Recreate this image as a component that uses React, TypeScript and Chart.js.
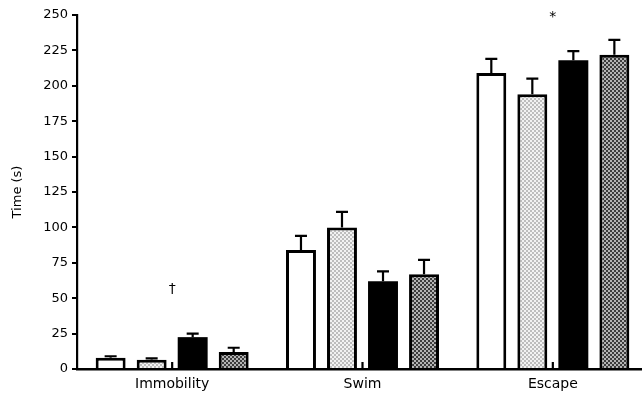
import React, { useEffect, useRef } from "react";
import { Chart, registerables } from "chart.js";

Chart.register(...registerables);

const categories = ["Immobility", "Swim", "Escape"];
const seriesNames = ["Group 1", "Group 2", "Group 3", "Group 4"];
const group1Means = [8, 84, 209];
const group2Means = [6.5, 100, 194];
const group3Means = [22.5, 62, 218];
const group4Means = [12, 67, 222];
const group1Err = [1, 10, 10];
const group2Err = [1, 11, 11];
const group3Err = [2.5, 7, 6.5];
const group4Err = [3, 10, 10.5];
const yTicks = [0, 25, 50, 75, 100, 125, 150, 175, 200, 225, 250];
const annotations = [
  { category: 0, value: 56, text: "\u2020" },
  { category: 2, value: 248, text: "*" },
];

function makePattern(a: string, b: string): CanvasPattern | string {
  const c = document.createElement("canvas");
  c.width = 4;
  c.height = 4;
  const ctx = c.getContext("2d");
  if (!ctx) return a;
  ctx.fillStyle = a;
  ctx.fillRect(0, 0, 4, 4);
  ctx.fillStyle = b;
  ctx.fillRect(0, 0, 2, 2);
  ctx.fillRect(2, 2, 2, 2);
  return ctx.createPattern(c, "repeat") || a;
}

export default function App() {
  const ref = useRef<HTMLCanvasElement | null>(null);

  useEffect(() => {
    if (!ref.current) return;
    const means = [group1Means, group2Means, group3Means, group4Means];
    const errs = [group1Err, group2Err, group3Err, group4Err];
    const fills: any[] = [
      "#ffffff",
      makePattern("#f2f2f2", "#bdbdbd"),
      "#000000",
      makePattern("#b4b4b4", "#3c3c3c"),
    ];
    const borders = [3, 3, 0, 3];

    const extras = {
      id: "extras",
      afterDatasetsDraw(chart: any) {
        const ctx = chart.ctx;
        const y = chart.scales.y;
        const x = chart.scales.x;
        ctx.save();
        ctx.strokeStyle = "#000";
        ctx.lineWidth = 2.2;
        means.forEach((m, i) => {
          const meta = chart.getDatasetMeta(i);
          meta.data.forEach((el: any, j: number) => {
            const top = y.getPixelForValue(m[j] + errs[i][j]);
            ctx.beginPath();
            ctx.moveTo(el.x, el.y);
            ctx.lineTo(el.x, top);
            ctx.moveTo(el.x - 6, top);
            ctx.lineTo(el.x + 6, top);
            ctx.stroke();
          });
        });
        // small inner category ticks
        const base = y.getPixelForValue(0);
        categories.forEach((_, k) => {
          const cx = x.getPixelForValue(k);
          ctx.beginPath();
          ctx.moveTo(cx, base);
          ctx.lineTo(cx, base - 7);
          ctx.stroke();
        });
        ctx.fillStyle = "#000";
        ctx.font = "14px 'DejaVu Sans'";
        ctx.textAlign = "center";
        ctx.textBaseline = "middle";
        annotations.forEach((a) => {
          ctx.fillText(a.text, x.getPixelForValue(a.category), y.getPixelForValue(a.value));
        });
        ctx.restore();
      },
    };

    const chart = new Chart(ref.current, {
      type: "bar",
      data: {
        labels: categories,
        datasets: means.map((m, i) => ({
          label: seriesNames[i],
          data: m,
          backgroundColor: fills[i],
          borderColor: "#000",
          borderWidth: borders[i],
          categoryPercentage: 0.862,
          barPercentage: 0.73,
        })),
      },
      options: {
        animation: false,
        responsive: false,
        maintainAspectRatio: false,
        layout: { padding: { top: 15, right: 0, bottom: 0, left: 0 } },
        plugins: { legend: { display: false }, tooltip: { enabled: false } },
        scales: {
          x: {
            offset: true,
            grid: { display: false, drawTicks: false },
            border: { display: true, color: "#000", width: 2.5 },
            ticks: { color: "#000", padding: 7, font: { family: "'DejaVu Sans'", size: 14 } },
            afterFit: (s: any) => {
              s.height = 28;
            },
          },
          y: {
            min: 0,
            max: 250,
            afterBuildTicks: (s: any) => {
              s.ticks = yTicks.map((v) => ({ value: v }));
            },
            grid: { drawOnChartArea: false, drawTicks: true, tickLength: 5, color: "#000", lineWidth: 2 },
            border: { display: true, color: "#000", width: 2.2 },
            ticks: { color: "#000", padding: 4, font: { family: "'DejaVu Sans'", size: 13 } },
            title: {
              display: true,
              text: "Time (s)",
              color: "#000",
              font: { family: "'DejaVu Sans'", size: 13 },
              padding: { top: 10, bottom: 0 },
            },
            afterFit: (s: any) => {
              s.width = 77;
            },
          },
        },
      },
      plugins: [extras],
    });
    return () => chart.destroy();
  }, []);

  return (
    <div style={{ position: "fixed", left: 0, top: 0, width: 642, height: 397, overflow: "hidden", background: "#fff" }}>
      <canvas ref={ref} width={648} height={397} style={{ display: "block" }} />
    </div>
  );
}
